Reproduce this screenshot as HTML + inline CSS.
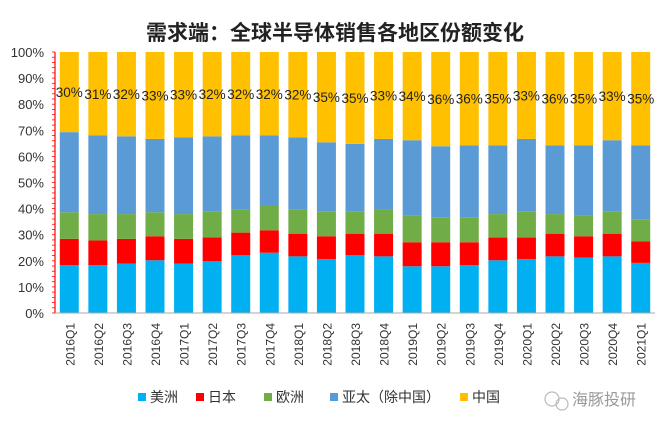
<!DOCTYPE html>
<html><head><meta charset="utf-8"><style>
html,body{margin:0;padding:0;background:#fff;}
svg{display:block;font-family:"Liberation Sans","Noto Sans CJK SC",sans-serif;}
</style></head><body>
<svg id="chart" width="667" height="424" viewBox="0 0 667 424">
<text x="335" y="40" text-anchor="middle" font-size="21" font-weight="bold" fill="#222" font-family="'Liberation Sans','Noto Sans CJK SC',sans-serif">需求端：全球半导体销售各地区份额变化</text>
<g id="yaxis"></g><g id="bars"></g><g id="xlabels"></g>
<g id="legend"></g>
<g>
<circle cx="552" cy="399" r="7" fill="none" stroke="#bbb" stroke-width="1.2"/>
<circle cx="562" cy="404" r="6" fill="none" stroke="#bbb" stroke-width="1.2"/>
<text x="572" y="405" font-size="16" fill="#999">海豚投研</text>
</g>
</svg>
<script>
const categories=["2016Q1","2016Q2","2016Q3","2016Q4","2017Q1","2017Q2","2017Q3","2017Q4","2018Q1","2018Q2","2018Q3","2018Q4","2019Q1","2019Q2","2019Q3","2019Q4","2020Q1","2020Q2","2020Q3","2020Q4","2021Q1"];
const americas=[18.3,18.3,18.9,20.2,18.9,19.8,22.1,23.1,21.7,20.7,22.1,21.7,17.9,17.9,18.3,20.2,20.7,21.7,21.2,21.7,19.2];
const japan=[10.1,9.5,9.5,9.2,9.5,9.2,8.7,8.6,8.7,8.7,8.3,8.7,9.2,9.2,8.8,8.7,8.2,8.7,8.2,8.7,8.3];
const europe=[10.2,10.1,9.5,9.2,9.5,9.8,8.9,9.3,9.3,9.4,8.4,9.1,10.4,9.4,9.4,9.0,9.9,7.5,7.8,8.4,8.4];
const asiaPac=[30.7,30.1,29.8,28.1,29.4,28.9,28.3,27.0,27.6,26.6,26.0,27.2,28.7,27.4,27.7,26.3,27.9,26.3,27.0,27.4,28.3];
const chinaLabels=["30%","31%","32%","33%","33%","32%","32%","32%","32%","35%","35%","33%","34%","36%","36%","35%","33%","36%","35%","33%","35%"];
const yTicks=[0,10,20,30,40,50,60,70,80,90,100];
const seriesNames=["美洲","日本","欧洲","亚太（除中国）","中国"];
const colors=["#00b0f0","#ff0000","#70ad47","#5b9bd5","#ffc000"];

const NS="http://www.w3.org/2000/svg";
const X0=55,X1=655,Y0=313,Y1=52;
const band=(X1-X0)/categories.length;
const y=v=>Y0-(v/100)*(Y0-Y1);
const xc=i=>X0+band*(i+0.5);
function mk(tag,attrs,parent){const e=document.createElementNS(NS,tag);for(const k in attrs)e.setAttribute(k,attrs[k]);parent.appendChild(e);return e;}

const ya=document.getElementById('yaxis');
yTicks.forEach(t=>{
  const tx=mk('text',{x:44,y:y(t)+5,'text-anchor':'end','font-size':13,fill:'#333'},ya);
  tx.textContent=t+'%';
  
  
});
for(let v=0;v<=100;v+=2){mk('line',{x1:X0-3,x2:X0,y1:y(v),y2:y(v),stroke:'#f00','stroke-width':0.8},ya);}
const yl=mk('line',{x1:X0,x2:X0,y1:Y1,y2:Y0,stroke:'#f00','stroke-width':1.2},ya);



const bg=document.getElementById('bars');
const bw=19;
categories.forEach((c,i)=>{
  const vals=[americas[i],japan[i],europe[i],asiaPac[i]];
  let cum=0;
  vals.forEach((v,s)=>{
    const r=mk('rect',{x:xc(i)-bw/2,y:y(cum+v),width:bw,height:y(cum)-y(cum+v),fill:colors[s]},bg);
    
    
    cum+=v;
  });
  const r=mk('rect',{x:xc(i)-bw/2,y:y(100),width:bw,height:y(cum)-y(100),fill:colors[4]},bg);
  
  
  const t=mk('text',{x:xc(i),y:y(100-(100-cum)/2)+5,'text-anchor':'middle','font-size':13.5,fill:'#222'},bg);
  t.textContent=chinaLabels[i];
  
  
});
const xl=mk('line',{x1:X0,x2:X1,y1:Y0,y2:Y0,stroke:'#aaa','stroke-width':1},bg);



const xg=document.getElementById('xlabels');
categories.forEach((c,i)=>{
  const t=mk('text',{x:0,y:0,'text-anchor':'end','font-size':12,fill:'#333',transform:`translate(${xc(i)+5},${Y0+10}) rotate(-90)`},xg);
  t.textContent=c;
  
  
});

const lg=document.getElementById('legend');
const lx=[138,196,264,330,460];
seriesNames.forEach((n,s)=>{
  const r=mk('rect',{x:lx[s],y:393,width:8,height:8,fill:colors[s]},lg);
  
  
  const t=mk('text',{x:lx[s]+12,y:402,'font-size':14,fill:'#333'},lg);
  t.textContent=n;
  
  
});
</script>
</body></html>
